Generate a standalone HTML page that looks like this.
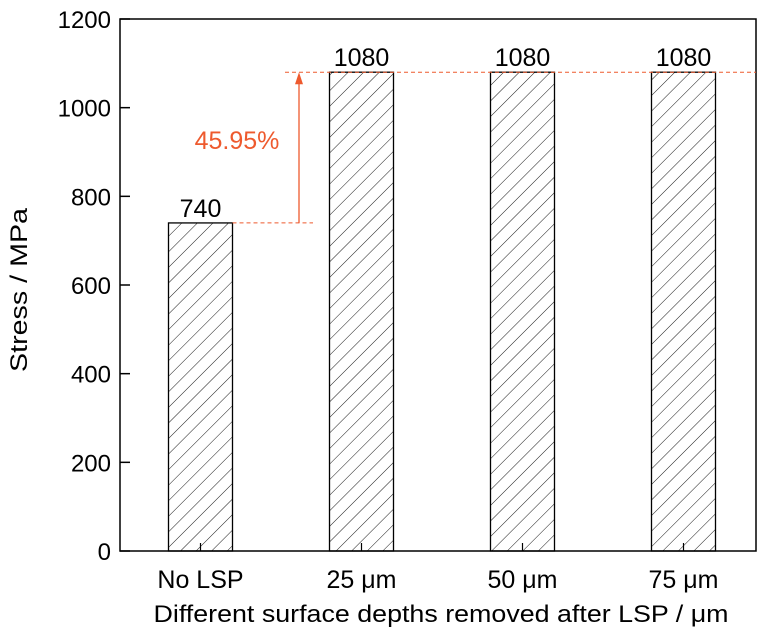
<!DOCTYPE html>
<html><head><meta charset="utf-8"><style>
body{margin:0;background:#fff;}
svg{display:block;font-family:"Liberation Sans",Arial,sans-serif;}
</style></head><body>
<svg id="chart" width="768" height="637" viewBox="0 0 768 637">
<defs>
<pattern id="hatch" patternUnits="userSpaceOnUse" width="11" height="11" patternTransform="rotate(45)">
<line x1="0" y1="0" x2="0" y2="11" stroke="#000" stroke-width="0.9"/>
</pattern>
</defs>
<g id="plot"></g>
</svg>
<script>
const categories=["No LSP","25 \u03bcm","50 \u03bcm","75 \u03bcm"];
const values=[740,1080,1080,1080];
const yTicks=[0,200,400,600,800,1000,1200];
const annotation="45.95%";
const L=120,R=756,T=19,B=551,yMax=1200;
const ns="http://www.w3.org/2000/svg";
const g=document.getElementById('plot');
function y(v){return B-(v/yMax)*(B-T);}
const band=161;
function xc(i){return L+80.5+band*i;}
function el(tag,attrs,parent){const e=document.createElementNS(ns,tag);for(const k in attrs)e.setAttribute(k,attrs[k]);(parent||g).appendChild(e);return e;}
const bw=64;
values.forEach((v,i)=>{
  const r=el('rect',{x:xc(i)-bw/2,y:y(v),width:bw,height:B-y(v),fill:'url(#hatch)',stroke:'#000','stroke-width':1.3});
  
  
  const t=el('text',{x:xc(i),y:y(v)-6,'text-anchor':'middle','font-size':25,fill:'#000'});
  t.textContent=v;
  
  
});
const fr=el('rect',{x:L,y:T,width:R-L,height:B-T,fill:'none',stroke:'#000','stroke-width':1.5});


yTicks.forEach(v=>{
  el('line',{x1:L,x2:L+10,y1:y(v),y2:y(v),stroke:'#000','stroke-width':1.5});
  const t=el('text',{x:L-9,y:y(v)+9,'text-anchor':'end','font-size':24,fill:'#000'});
  t.textContent=v;
  
  
});
categories.forEach((c,i)=>{
  el('line',{x1:xc(i),x2:xc(i),y1:B,y2:B-8,stroke:'#000','stroke-width':1.2});
  const t=el('text',{x:xc(i),y:B+37,'text-anchor':'middle','font-size':25,fill:'#000'});
  t.textContent=c;
  
  
});
const c='#ee5a2e';
const ax=299;
const d1=el('line',{x1:xc(0)+bw/2,x2:313,y1:y(values[0]),y2:y(values[0]),stroke:c,'stroke-width':1,'stroke-dasharray':'4,3'});


const d2=el('line',{x1:285,x2:R,y1:y(values[1]),y2:y(values[1]),stroke:c,'stroke-width':1,'stroke-dasharray':'4,3'});


const ar=el('line',{x1:ax,x2:ax,y1:y(values[0]),y2:y(values[1])+10,stroke:c,'stroke-width':1.3});


el('polygon',{points:`${ax},${y(values[1])} ${ax-4},${y(values[1])+12} ${ax+4},${y(values[1])+12}`,fill:c});
const at=el('text',{x:237,y:149,'text-anchor':'middle','font-size':25,fill:c});
at.textContent=annotation;


const xt=el('text',{x:441,y:622,'text-anchor':'middle','font-size':24,fill:'#000',textLength:575,lengthAdjust:'spacingAndGlyphs'});
xt.textContent="Different surface depths removed after LSP / \u03bcm";


const yt=el('text',{x:0,y:0,'text-anchor':'middle','font-size':24,fill:'#000',textLength:164,lengthAdjust:'spacingAndGlyphs',transform:`translate(27,290) rotate(-90)`});
yt.textContent="Stress / MPa";


</script>
</body></html>
